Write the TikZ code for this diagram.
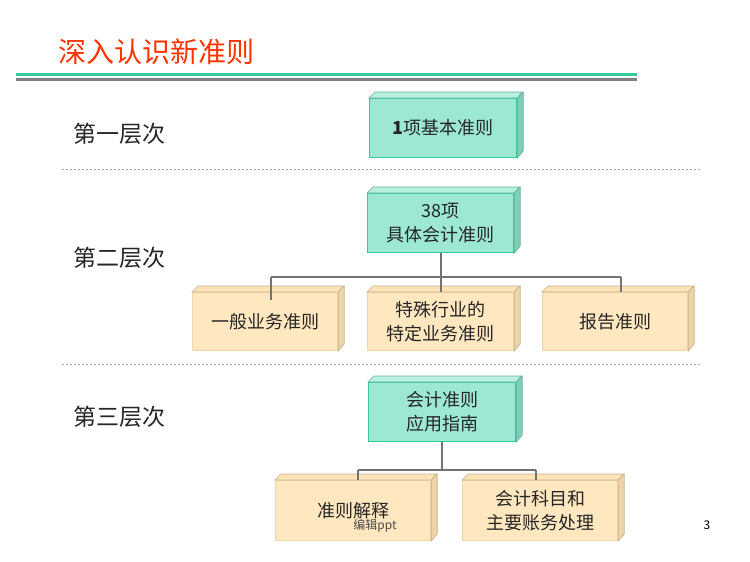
\documentclass[tikz,border=0pt]{standalone}
\usepackage{fontspec}
\setmainfont{Noto Sans CJK SC}
\begin{document}
\begin{tikzpicture}[x=1pt,y=-1pt,
  boxtext/.style={align=center, inner sep=0pt, text=black!85, font=\fontsize{18}{24}\selectfont},
  tealbox/.style={boxtext, draw=tealline, line width=1.2pt, fill=tealfill},
  orbox/.style={boxtext, draw=orborder, line width=1.2pt, fill=orfill},
  lvl/.style={font=\fontsize{23}{26}\selectfont, anchor=west, text=black!85},
  conn/.style={draw=gray!90!black, line width=2pt},
  sep/.style={draw=gray!70, line width=1pt, dash pattern=on 2pt off 2pt}]
\definecolor{tealfill}{HTML}{9CE8D4}
\definecolor{tealside}{HTML}{7CCFB8}
\definecolor{tealtop}{HTML}{B8EFDF}
\definecolor{tealline}{HTML}{33CC99}
\definecolor{orfill}{HTML}{FFE8C0}
\definecolor{orside}{HTML}{EDD3A6}
\definecolor{ortop}{HTML}{FCE3B8}
\definecolor{orborder}{HTML}{F2D7A4}
\definecolor{titlered}{HTML}{FF3300}
\useasboundingbox (0,0) rectangle (750,562);
\fill[white] (0,0) rectangle (750,562);
% title
\node[anchor=west, text=titlered, font=\fontsize{28}{32}\selectfont, inner sep=0pt] (title) at (58,52) {深入认识新准则};
\draw[tealline, line width=2.5pt] (16,74.5) -- (637,74.5);
\draw[gray, line width=2.5pt] (16,79.5) -- (637,79.5);
% separators
\draw[sep] (62,169) -- (700,169);
\draw[sep] (62,364) -- (700,364);
% level labels
\node[lvl] (l1) at (70,134) {第一层次};
\node[lvl] (l2) at (70,258) {第二层次};
\node[lvl] (l3) at (70,417) {第三层次};
% 3D box: name, style, x0, y0, w, h, side colour, top colour, text
\newcommand{\tdbox}[9]{%
  \node[#2, minimum width=#5pt, minimum height=#6pt, anchor=north west] (#1) at (#3,#4) {#9};
  \filldraw[fill=#7, draw=#7!85!black, line width=0.6pt] (#1.north east) -- ++(6,-6) -- ++(0,#6) -- (#1.south east) -- cycle;
  \filldraw[fill=#8, draw=#7!85!black, line width=0.6pt] (#1.north west) -- ++(6,-6) -- ++(#5,0) -- (#1.north east) -- cycle;
}
% connectors first
\coordinate (h1l) at (271,277);
\coordinate (h1r) at (621,277);
\coordinate (h2l) at (358,470);
\coordinate (h2r) at (536,470);
\tdbox{b1}{tealbox}{369}{98}{147}{59}{tealside}{tealtop}{\textbf{1}项基本准则}
\tdbox{b2}{tealbox}{367}{193}{146}{59}{tealside}{tealtop}{38项\\具体会计准则}
\tdbox{o1}{orbox}{192}{292}{145}{58}{orside}{ortop}{一般业务准则}
\tdbox{o2}{orbox}{367}{292}{146}{58}{orside}{ortop}{特殊行业的\\特定业务准则}
\tdbox{o3}{orbox}{542}{292}{145}{58}{orside}{ortop}{报告准则}
\tdbox{b3}{tealbox}{368}{382}{147}{59}{tealside}{tealtop}{会计准则\\应用指南}
\tdbox{d1}{orbox}{275}{480}{155}{60}{orside}{ortop}{准则解释}
\tdbox{d2}{orbox}{462}{480}{155}{60}{orside}{ortop}{会计科目和\\主要账务处理}
\draw[conn] (b2.south) -- (b2.south |- h1l);
\draw[conn] (h1l) -- (h1r);
\draw[conn] (h1l) -- ([yshift=-8pt]h1l |- o1.north);
\draw[conn] (o2.north |- h1l) -- (o2.north);
\draw[conn] (h1r) -- (h1r |- o3.north);
\draw[conn] (b3.south -| 442,0) -- (442,470);
\draw[conn] (h2l) -- (h2r);
\draw[conn] (h2l) -- (h2l |- d1.north);
\draw[conn] (h2r) -- (h2r |- d2.north);
% footer
\node[text=gray!60!black, font=\fontsize{12}{14}\selectfont] (wm) at (375,526) {编辑ppt};
\node[font=\fontsize{12}{14}\selectfont] (pg) at (707,525) {3};
\end{tikzpicture}
\end{document}
